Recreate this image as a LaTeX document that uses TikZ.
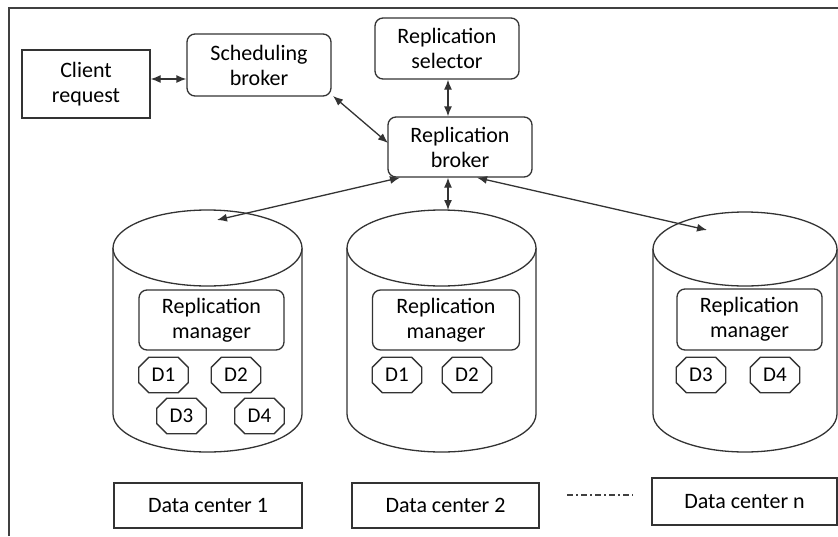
\documentclass[tikz,border=0pt]{standalone}
\usepackage{fontspec}
\setmainfont{Carlito}
\usetikzlibrary{arrows.meta}
\newcommand\octnode[3]{%
  \node[octa] (#1) at (#2) {#3};
  \draw[line] ([xshift=10pt]#1.north west) -- ([xshift=-10pt]#1.north east) -- ([yshift=-10pt]#1.north east)
    -- ([yshift=10pt]#1.south east) -- ([xshift=-10pt]#1.south east) -- ([xshift=10pt]#1.south west)
    -- ([yshift=10pt]#1.south west) -- ([yshift=-10pt]#1.north west) -- cycle;}
\begin{document}
\begin{tikzpicture}[x=1pt,y=-1pt,
  line/.style={draw=black!80,line width=1.3pt},
  txt/.style={font=\fontsize{22}{25}\selectfont,text=black,align=center,inner sep=0pt},
  sqbox/.style={txt,line,rectangle},
  rbox/.style={txt,line,rectangle,rounded corners=8pt},
  octa/.style={txt,rectangle,minimum width=49pt,minimum height=35pt,font=\fontsize{21}{25}\selectfont},
  link/.style={line,{Latex[length=10pt,width=8pt]}-{Latex[length=10pt,width=8pt]}},
  cyl/.style={line,fill=white}]
\useasboundingbox (0,0) rectangle (838,536);
% frame
\draw[draw=black!75,line width=1.4pt] (9,536) -- (9,8) -- (838,8);

% top nodes
\node[sqbox,minimum width=128pt,minimum height=68pt] (client) at (86,84) {Client\\request};
\node[rbox,minimum width=144pt,minimum height=62pt] (sched) at (259,65) {Scheduling\\broker};
\node[rbox,minimum width=144pt,minimum height=61pt] (sel) at (447,48.5) {Replication\\selector};
\node[rbox,minimum width=144pt,minimum height=60pt] (rb) at (460,147) {Replication\\broker};

% cylinders
\draw[cyl] (113,248) -- (113,414) arc[start angle=180,end angle=360,x radius=94.5pt,y radius=38pt] -- (302,248);
\draw[cyl] (207.5,248) ellipse[x radius=94.5pt,y radius=38pt];
\draw[cyl] (347,248) -- (347,414) arc[start angle=180,end angle=360,x radius=94.5pt,y radius=38pt] -- (536,248);
\draw[cyl] (441.5,248) ellipse[x radius=94.5pt,y radius=38pt];
\draw[cyl] (653,249) -- (653,414) arc[start angle=180,end angle=360,x radius=92pt,y radius=38pt] -- (837,249);
\draw[cyl] (745,249) ellipse[x radius=92pt,y radius=37pt];

\coordinate (c1) at (217,220);
\coordinate (c2) at (448,210);
\coordinate (cn) at (707,230);

% managers
\node[rbox,minimum width=145pt,minimum height=60pt] (rm1) at (211.5,320) {Replication\\manager};
\node[rbox,minimum width=147pt,minimum height=60pt] (rm2) at (446,320) {Replication\\manager};
\node[rbox,minimum width=145pt,minimum height=61pt] (rm3) at (749.5,319.5) {Replication\\manager};

% data items
\octnode{a1}{163.5,375}{D1}
\octnode{a2}{236,375}{D2}
\octnode{a3}{181.5,416}{D3}
\octnode{a4}{259.5,416}{D4}
\octnode{b1}{397,375}{D1}
\octnode{b2}{467,375}{D2}
\octnode{n3}{701,375}{D3}
\octnode{n4}{775,375}{D4}

% data center labels
\node[sqbox,minimum width=188pt,minimum height=45pt] (dc1) at (208,505.5) {Data center 1};
\node[sqbox,minimum width=187pt,minimum height=45pt] (dc2) at (445.5,505.5) {Data center 2};
\node[sqbox,minimum width=185pt,minimum height=47pt] (dcn) at (744.5,501.5) {Data center n};
\coordinate (d0) at (567,495);
\coordinate (d9) at (633,495);
\draw[draw=black!75,line width=1.3pt,dash pattern=on 6pt off 3pt on 2pt off 3pt] (d0) -- (d9);

% connectors
\draw[link] (client.east |- 0,79) -- (sched.west |- 0,79);
\draw[link] (333,96) -- (388,143);
\draw[link] (sel.south -| 448,0) -- (rb.north -| 448,0);
\draw[link] (rb.south -| 400,0) -- (c1);
\draw[link] (rb.south -| 448,0) -- (c2);
\draw[link] (rb.south -| 477,0) -- (cn);
\end{tikzpicture}
\end{document}
